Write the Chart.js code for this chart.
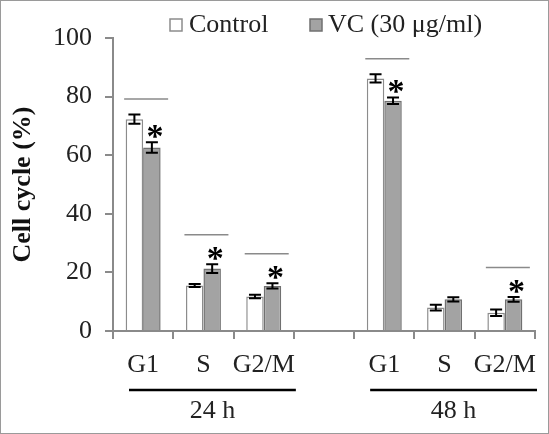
<!DOCTYPE html>
<html>
<head>
<meta charset="utf-8">
<script src="https://cdn.jsdelivr.net/npm/chart.js@4"></script>
<style>
  body { margin: 0; background: #fff; }
  canvas { display: block; }
</style>
</head>
<body>
<canvas id="cycle-chart" width="549" height="434"></canvas>
<script>
// Cell cycle distribution, Control vs VC, 24 h and 48 h
const categories = ['G1', 'S', 'G2/M', '', 'G1', 'S', 'G2/M'];
const groupLabels = ['24 h', '48 h'];
const groupRanges = [[0, 2], [4, 6]];

const controlValues = [72.3, 15.5, 11.8, null, 86.2, 8.0, 6.2];
const controlErrors = [1.6, 0.5, 0.6, null, 1.4, 1.0, 1.1];
const vcValues = [62.6, 21.3, 15.4, null, 78.6, 10.8, 10.8];
const vcErrors = [1.8, 1.5, 0.9, null, 1.1, 0.7, 0.8];
const significant = [true, true, true, false, true, false, true];

const yMin = 0, yMax = 100, yStep = 20;

const SERIF = "'Liberation Serif', 'Times New Roman', serif";
const AXIS_GREY = '#8a8a8a';

const errorArrays = [controlErrors, vcErrors];

const extras = {
  id: 'extras',
  beforeDraw(chart) {
    const c = chart.ctx;
    c.save();
    c.fillStyle = '#fff';
    c.fillRect(0, 0, chart.width, chart.height);
    c.restore();
  },
  afterDatasetsDraw(chart) {
    const c = chart.ctx;
    const y = chart.scales.y;
    const x = chart.scales.x;
    c.save();
    // error bars
    c.strokeStyle = '#000';
    c.lineWidth = 2;
    chart.data.datasets.forEach((ds, di) => {
      const meta = chart.getDatasetMeta(di);
      meta.data.forEach((bar, i) => {
        const v = ds.data[i], e = errorArrays[di][i];
        if (v == null) return;
        const t = y.getPixelForValue(v + e), b = y.getPixelForValue(v - e);
        c.beginPath();
        c.moveTo(bar.x, t); c.lineTo(bar.x, b);
        c.moveTo(bar.x - 6, t); c.lineTo(bar.x + 6, t);
        c.moveTo(bar.x - 6, b); c.lineTo(bar.x + 6, b);
        c.stroke();
      });
    });
    // asterisks + significance lines
    const vcMeta = chart.getDatasetMeta(1);
    significant.forEach((sig, i) => {
      if (!sig) return;
      const bx = vcMeta.data[i].x + 3;
      const ast = y.getPixelForValue(vcValues[i] + vcErrors[i]) - 14;
      c.fillStyle = '#000';
      c.font = 'bold 34px ' + SERIF;
      c.textAlign = 'center';
      c.textBaseline = 'alphabetic';
      c.fillText('*', bx, ast + 19);
      const ctrlTop = y.getPixelForValue(controlValues[i] + controlErrors[i]);
      const ly = Math.min(ctrlTop, ast) - 15.5;
      const cx = x.getPixelForValue(i) + 3;
      c.strokeStyle = AXIS_GREY;
      c.lineWidth = 1.5;
      c.beginPath();
      c.moveTo(cx - 22, ly); c.lineTo(cx + 22, ly);
      c.stroke();
    });
    c.restore();
  },
  afterDraw(chart) {
    const c = chart.ctx;
    const x = chart.scales.x;
    const step = x.getPixelForValue(1) - x.getPixelForValue(0);
    c.save();
    // group underline + labels
    groupRanges.forEach((r, g) => {
      const left = x.getPixelForValue(r[0]) - step / 2 + 16;
      const right = x.getPixelForValue(r[1]) + step / 2 + 2;
      c.strokeStyle = '#000';
      c.lineWidth = 2.5;
      c.beginPath();
      c.moveTo(left, 390); c.lineTo(right, 390);
      c.stroke();
      c.fillStyle = '#222';
      c.font = '26px ' + SERIF;
      c.textAlign = 'center';
      c.textBaseline = 'middle';
      c.fillText(groupLabels[g], (left + right) / 2, 411);
    });
    // legend
    const items = [[170, 189], [310, 328]];
    chart.data.datasets.forEach((ds, i) => {
      const [bx, tx] = items[i];
      c.fillStyle = ds.backgroundColor;
      c.strokeStyle = ds.borderColor;
      c.lineWidth = 1.5;
      c.fillRect(bx, 19, 12, 12);
      c.strokeRect(bx, 19, 12, 12);
      c.fillStyle = '#222';
      c.font = '26px ' + SERIF;
      c.textAlign = 'left';
      c.textBaseline = 'middle';
      c.fillText(ds.label, tx, 25);
    });
    // frame
    c.strokeStyle = '#9a9a9a';
    c.lineWidth = 1;
    c.strokeRect(0.5, 0.5, chart.width - 1, chart.height - 1);
    c.restore();
  }
};

new Chart(document.getElementById('cycle-chart'), {
  type: 'bar',
  data: {
    labels: categories,
    datasets: [
      {
        label: 'Control',
        data: controlValues,
        backgroundColor: '#ffffff',
        borderColor: '#8c8c8c',
        borderWidth: 1.5
      },
      {
        label: 'VC (30 μg/ml)',
        data: vcValues,
        backgroundColor: '#a3a3a3',
        borderColor: '#707070',
        borderWidth: 1.5
      }
    ]
  },
  options: {
    responsive: false,
    animation: false,
    layout: { padding: { top: 38, right: 14, left: 0, bottom: 0 } },
    datasets: { bar: { categoryPercentage: 0.58, barPercentage: 1 } },
    plugins: { legend: { display: false }, tooltip: { enabled: false } },
    scales: {
      x: {
        afterFit(s) { s.height = 103; },
        grid: { display: true, drawOnChartArea: false, offset: true, tickLength: 8, color: AXIS_GREY, lineWidth: 2 },
        border: { display: true, color: AXIS_GREY, width: 2 },
        ticks: { color: '#222', padding: 11, font: { family: SERIF, size: 26 }, maxRotation: 0, autoSkip: false }
      },
      y: {
        min: yMin,
        max: yMax,
        afterFit(s) { s.width = 113; },
        grid: { display: true, drawOnChartArea: false, tickLength: 8, color: AXIS_GREY, lineWidth: 2 },
        border: { display: true, color: AXIS_GREY, width: 2 },
        ticks: { stepSize: yStep, color: '#222', padding: 13, font: { family: SERIF, size: 26 } },
        title: {
          display: true,
          text: 'Cell cycle (%)',
          color: '#111',
          padding: { top: 8, bottom: 0 },
          font: { family: SERIF, size: 26, weight: 'bold' }
        }
      }
    }
  },
  plugins: [extras]
});
</script>
</body>
</html>
